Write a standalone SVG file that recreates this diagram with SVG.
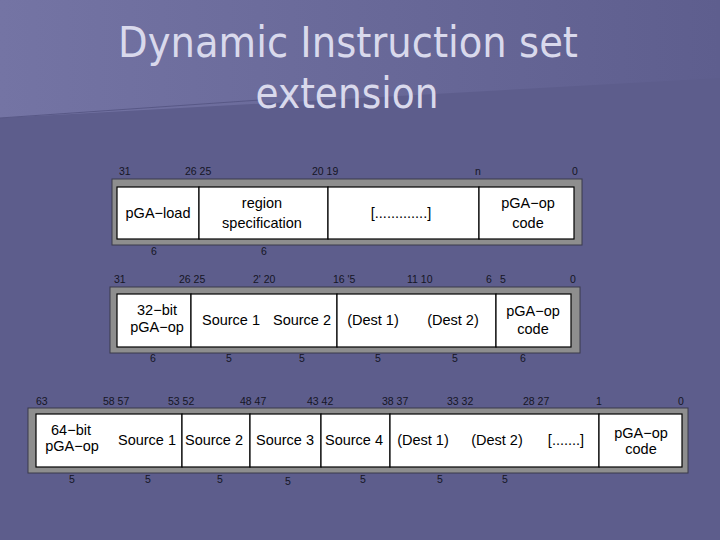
<svg xmlns="http://www.w3.org/2000/svg" width="720" height="540" viewBox="0 0 720 540">
<defs>
<linearGradient id="bgl" x1="0" y1="0" x2="1" y2="0">
<stop offset="0" stop-color="#7474a4"/>
<stop offset="0.45" stop-color="#6a6a9a"/>
<stop offset="1" stop-color="#5e5e8e"/>
</linearGradient>
<style>
.title{font-family:"DejaVu Sans",Verdana,sans-serif;font-size:42px;fill:#d9d9ec;text-anchor:middle}
.frame{fill:#8e8e8e;stroke:#3a3a4a;stroke-width:1}
.cell{fill:#ffffff;stroke:#000000;stroke-width:1.2}
.lbl{font-family:"Liberation Sans",Arial,sans-serif;font-size:14.5px;fill:#000;text-anchor:middle}
.num{font-family:"Liberation Sans",Arial,sans-serif;font-size:10.5px;fill:#151525}
.numc{font-family:"Liberation Sans",Arial,sans-serif;font-size:10.5px;fill:#151525;text-anchor:middle}
</style>
</defs>
<rect x="0" y="0" width="720" height="540" fill="#5d5d8c"/>
<polygon points="0,0 720,0 720,78 0,118" fill="url(#bgl)"/>
<line x1="0" y1="118" x2="260" y2="100" stroke="#585886" stroke-width="1"/>
<g id="title">
<text class="title" x="348" y="57" textLength="460" lengthAdjust="spacingAndGlyphs">Dynamic Instruction set</text>
<text class="title" x="347" y="108" textLength="183" lengthAdjust="spacingAndGlyphs">extension</text>
</g>
<g id="connectors"></g>
<g id="format-pga-load">
<rect class="frame" x="112" y="179" width="470" height="66"/>
<rect class="cell" x="117" y="187" width="82" height="52"/>
<rect class="cell" x="199" y="187" width="129" height="52"/>
<rect class="cell" x="328" y="187" width="151" height="52"/>
<rect class="cell" x="479" y="187" width="95" height="52"/>
<text class="lbl" x="158" y="218">pGA−load</text>
<text class="lbl" x="262" y="208">region</text>
<text class="lbl" x="262" y="228">specification</text>
<text class="lbl" x="401" y="218">[.............]</text>
<text class="lbl" x="528" y="208">pGA−op</text>
<text class="lbl" x="528" y="228">code</text>
<text class="num" x="119" y="175">31</text>
<text class="num" x="185" y="175">26 25</text>
<text class="num" x="312" y="175">20 19</text>
<text class="numc" x="478" y="175">n</text>
<text class="numc" x="575" y="175">0</text>
<text class="numc" x="154" y="255">6</text>
<text class="numc" x="264" y="255">6</text>
</g>
<g id="format-32bit">
<rect class="frame" x="110" y="287" width="470" height="66"/>
<rect class="cell" x="117" y="294" width="74" height="53"/>
<rect class="cell" x="191" y="294" width="146" height="53"/>
<rect class="cell" x="337" y="294" width="159" height="53"/>
<rect class="cell" x="496" y="294" width="75" height="53"/>
<text class="lbl" x="157" y="315">32−bit</text>
<text class="lbl" x="157" y="332">pGA−op</text>
<text class="lbl" x="231" y="325">Source 1</text>
<text class="lbl" x="302" y="325">Source 2</text>
<text class="lbl" x="373" y="325">(Dest 1)</text>
<text class="lbl" x="453" y="325">(Dest 2)</text>
<text class="lbl" x="533" y="316">pGA−op</text>
<text class="lbl" x="533" y="334">code</text>
<text class="num" x="114" y="283">31</text>
<text class="num" x="179" y="283">26 25</text>
<text class="num" x="253" y="283">2' 20</text>
<text class="num" x="333" y="283">16 '5</text>
<text class="num" x="407" y="283">11 10</text>
<text class="numc" x="489" y="283">6</text>
<text class="numc" x="503" y="283">5</text>
<text class="numc" x="573" y="283">0</text>
<text class="numc" x="153" y="362">6</text>
<text class="numc" x="229" y="362">5</text>
<text class="numc" x="302" y="362">5</text>
<text class="numc" x="378" y="362">5</text>
<text class="numc" x="455" y="362">5</text>
<text class="numc" x="523" y="362">6</text>
</g>
<g id="format-64bit">
<rect class="frame" x="28" y="408" width="660" height="65"/>
<rect class="cell" x="36" y="414" width="146" height="53"/>
<rect class="cell" x="182" y="414" width="68" height="53"/>
<rect class="cell" x="250" y="414" width="71" height="53"/>
<rect class="cell" x="321" y="414" width="69" height="53"/>
<rect class="cell" x="390" y="414" width="209" height="53"/>
<rect class="cell" x="599" y="414" width="83" height="53"/>
<text class="lbl" x="71" y="435">64−bit</text>
<text class="lbl" x="72" y="451">pGA−op</text>
<text class="lbl" x="147" y="445">Source 1</text>
<text class="lbl" x="214" y="445">Source 2</text>
<text class="lbl" x="285" y="445">Source 3</text>
<text class="lbl" x="354" y="445">Source 4</text>
<text class="lbl" x="423" y="445">(Dest 1)</text>
<text class="lbl" x="497" y="445">(Dest 2)</text>
<text class="lbl" x="566" y="445">[.......]</text>
<text class="lbl" x="641" y="438">pGA−op</text>
<text class="lbl" x="641" y="454">code</text>
<text class="num" x="36" y="405">63</text>
<text class="num" x="103" y="405">58 57</text>
<text class="num" x="168" y="405">53 52</text>
<text class="num" x="240" y="405">48 47</text>
<text class="num" x="307" y="405">43 42</text>
<text class="num" x="382" y="405">38 37</text>
<text class="num" x="447" y="405">33 32</text>
<text class="num" x="523" y="405">28 27</text>
<text class="numc" x="599" y="405">1</text>
<text class="numc" x="681" y="405">0</text>
<text class="numc" x="72" y="483">5</text>
<text class="numc" x="148" y="483">5</text>
<text class="numc" x="220" y="483">5</text>
<text class="numc" x="288" y="485">5</text>
<text class="numc" x="363" y="483">5</text>
<text class="numc" x="440" y="483">5</text>
<text class="numc" x="505" y="483">5</text>
</g>
</svg>
